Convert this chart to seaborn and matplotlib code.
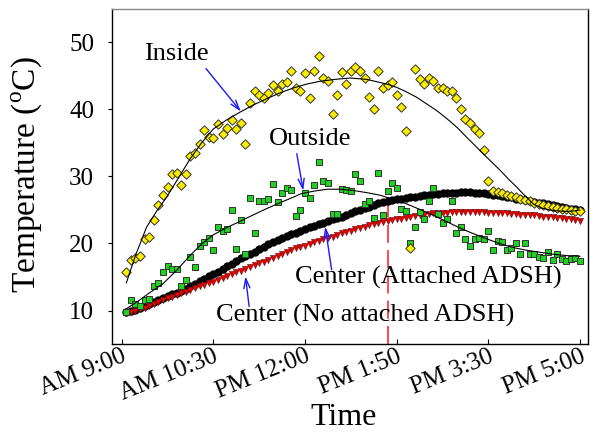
import numpy as np
import matplotlib
matplotlib.use("Agg")
import matplotlib.pyplot as plt
import matplotlib.transforms as mtransforms
import seaborn as sns

tick_labels = ["AM 9:00", "AM 10:30", "PM 12:00", "PM 1:50", "PM 3:30", "PM 5:00"]

# one reading every 1/20 of a tick interval
sample = np.arange(1, 101) / 20

inside = [15.8, 17.5, 17.9, 18.1, 20.7, 21.0, 23.5, 25.7, 27.2, 28.5,
          30.3, 30.5, 28.7, 30.3, 33.0, 33.5, 34.9, 37.0, 35.9, 35.7,
          37.8, 36.4, 37.2, 38.5, 37.1, 38.0, 34.9, 41.0, 42.7, 42.2,
          41.7, 42.4, 43.7, 42.7, 43.8, 44.1, 45.7, 43.2, 42.7, 45.5,
          41.7, 45.7, 48.0, 44.7, 44.3, 39.3, 42.2, 45.6, 43.8, 45.7,
          46.3, 45.7, 44.7, 41.8, 40.0, 45.8, 43.2, 43.7, 44.1, 42.2,
          40.3, 36.8, 19.4, 46.1, 44.6, 43.8, 44.7, 44.2, 43.2, 43.2,
          42.8, 42.7, 41.7, 40.0, 38.6, 38.0, 37.1, 36.5, 34.0, 29.3,
          27.9, 27.7, 27.5, 27.3, 27.1, 26.9, 26.6, 26.5, 26.3, 26.1,
          25.9, 25.7, 25.6, 25.5, 25.3, 25.2, 25.1, 25.0, 24.9, 24.8]

outside = [9.75, 11.5, 10.9, 10.6, 11.6, 11.7, 13.6, 14.1, 15.7, 16.7,
           16.2, 16.2, 13.7, 14.6, 18.0, 16.5, 19.6, 20.2, 20.8, 19.1,
           22.5, 21.8, 22.1, 25.0, 19.2, 23.5, 18.5, 26.8, 21.5, 26.3,
           26.3, 26.7, 28.9, 26.2, 27.5, 28.3, 28.0, 24.1, 25.0, 27.6,
           26.8, 28.7, 32.1, 29.3, 29.1, 24.4, 24.4, 28.2, 28.0, 27.8,
           30.3, 29.3, 25.9, 26.4, 23.8, 30.5, 24.3, 27.8, 29.1, 28.3,
           25.1, 24.8, 20.1, 22.5, 24.7, 23.7, 26.4, 28.3, 24.4, 23.1,
           23.7, 26.4, 21.5, 22.4, 20.6, 19.6, 20.6, 20.8, 20.7, 21.9,
           19.1, 20.4, 20.2, 19.1, 19.3, 20.0, 18.5, 20.0, 18.5, 18.5,
           18.0, 17.9, 18.8, 17.6, 18.4, 17.7, 17.4, 17.7, 17.8, 17.4]

center_attached = [9.75, 9.9, 10.1, 10.3, 10.6, 10.9, 11.2, 11.5, 11.8, 12.1,
                   12.4, 12.6, 12.9, 13.2, 13.6, 14.0, 14.4, 14.7, 15.1, 15.4,
                   15.8, 16.2, 16.6, 17.0, 17.4, 17.8, 18.1, 18.5, 18.8, 19.2,
                   19.5, 19.9, 20.2, 20.5, 20.8, 21.1, 21.4, 21.6, 21.8, 22.1,
                   22.4, 22.6, 22.9, 23.1, 23.4, 23.6, 23.8, 24.0, 24.3, 24.5,
                   24.8, 25.0, 25.3, 25.5, 25.8, 26.0, 26.2, 26.4, 26.5, 26.6,
                   26.7, 26.8, 26.9, 27.0, 27.1, 27.2, 27.3, 27.4, 27.4, 27.5,
                   27.5, 27.6, 27.6, 27.7, 27.7, 27.7, 27.6, 27.6, 27.5, 27.4,
                   27.3, 27.2, 27.1, 27.0, 26.9, 26.7, 26.6, 26.5, 26.4, 26.2,
                   26.1, 26.0, 25.9, 25.7, 25.6, 25.5, 25.3, 25.2, 25.1, 25.0]

center_no_attached = [9.7, 9.8, 10.0, 10.2, 10.4, 10.7, 11.0, 11.2, 11.5, 11.8,
                      12.0, 12.3, 12.6, 12.8, 13.1, 13.3, 13.6, 13.8, 14.1, 14.3,
                      14.6, 14.9, 15.1, 15.4, 15.7, 15.9, 16.2, 16.5, 16.8, 17.1,
                      17.3, 17.6, 17.9, 18.2, 18.4, 18.7, 19.0, 19.3, 19.5, 19.7,
                      19.9, 20.2, 20.4, 20.6, 20.8, 21.0, 21.3, 21.5, 21.7, 21.9,
                      22.1, 22.3, 22.5, 22.7, 22.9, 23.1, 23.2, 23.4, 23.5, 23.6,
                      23.7, 23.8, 23.9, 24.1, 24.2, 24.3, 24.4, 24.5, 24.5, 24.6,
                      24.6, 24.7, 24.7, 24.7, 24.7, 24.7, 24.7, 24.7, 24.7, 24.6,
                      24.6, 24.6, 24.5, 24.5, 24.4, 24.4, 24.3, 24.3, 24.2, 24.2,
                      24.1, 24.0, 24.0, 23.9, 23.8, 23.8, 23.7, 23.6, 23.5, 23.4]

# trend lines as drawn in the figure
inside_fit_x = [0.05, 0.15, 0.27, 0.38, 0.49, 0.62, 0.745, 0.87, 1.0, 1.15, 1.29, 1.44,
                1.58, 1.73, 1.87, 2.02, 2.16, 2.33, 2.49, 2.67, 2.89, 3.0, 3.11, 3.22,
                3.33, 3.44, 3.55, 3.66, 3.76, 3.87, 3.98, 4.13, 4.22, 4.31, 4.4, 4.49,
                4.58, 4.67, 4.76, 4.85, 4.93, 5.0]
inside_fit_y = [14.1, 18.2, 22.4, 24.8, 26.9, 29.8, 32.6, 35.0, 37.1, 38.5, 39.6, 40.7,
                41.6, 42.5, 43.2, 43.8, 44.2, 44.5, 44.7, 44.5, 43.8, 43.3, 42.6, 41.8,
                40.8, 39.8, 38.6, 37.3, 35.9, 34.4, 32.9, 30.9, 29.6, 28.4, 27.1, 25.9,
                25.3, 25.0, 24.85, 24.8, 24.85, 25.0]
outside_fit_x = [0.05, 0.2, 0.3, 0.45, 0.6, 0.745, 0.87, 1.0, 1.15, 1.29, 1.44, 1.58,
                 1.73, 1.87, 1.95, 2.09, 2.24, 2.38, 2.53, 2.67, 2.82, 2.96, 3.11, 3.25,
                 3.4, 3.54, 3.69, 3.83, 3.98, 4.12, 4.27, 4.41, 4.56, 4.7, 4.85, 5.0]
outside_fit_y = [10.25, 11.6, 12.6, 14.0, 16.0, 18.2, 19.9, 21.3, 22.4, 23.3, 24.3, 25.2,
                 26.1, 26.9, 27.4, 27.8, 28.1, 28.1, 27.9, 27.6, 27.2, 26.6, 25.9, 25.1,
                 24.2, 23.3, 22.3, 21.5, 20.7, 20.0, 19.4, 19.0, 18.7, 18.4, 18.2, 18.1]

sns.set_style("white")
plt.rcParams["font.family"] = ["Liberation Serif", "DejaVu Serif"]
plt.rcParams["mathtext.fontset"] = "custom"
plt.rcParams["mathtext.rm"] = "Liberation Serif"
for key in ["text.color", "axes.labelcolor", "xtick.color", "ytick.color"]:
    plt.rcParams[key] = "black"

fig = plt.figure(figsize=(5.98, 4.32), dpi=100)
ax = fig.add_axes([0.1868, 0.2037, 0.797, 0.7755])

edge = "#333333"
sns.scatterplot(x=sample, y=center_attached, marker="o", s=36, color="black",
                edgecolor="black", linewidth=0, ax=ax, zorder=2)
sns.scatterplot(x=sample, y=center_no_attached, marker="v", s=20, color="#e60000",
                edgecolor="#661111", linewidth=0.4, ax=ax, zorder=3)
sns.scatterplot(x=sample, y=outside, marker="s", s=25, color="#1fd21f",
                edgecolor=edge, linewidth=0.7, ax=ax, zorder=4)
sns.scatterplot(x=sample, y=inside, marker="D", s=23, color="#fbee00",
                edgecolor=edge, linewidth=0.7, ax=ax, zorder=5)

sns.lineplot(x=inside_fit_x, y=inside_fit_y, color="black", lw=0.8, ax=ax, zorder=6)
sns.lineplot(x=outside_fit_x, y=outside_fit_y, color="black", lw=0.8, ax=ax, zorder=6)

ax.plot([2.91, 2.91], [5, 26.2], color="#ff3b3b", lw=1.3, dashes=(10, 4), zorder=1)

arrow = dict(arrowstyle="->,head_length=0.7,head_width=0.22", color="#1a1aff", lw=1.0,
             shrinkA=0, shrinkB=0)
fs = 19
ax.text(0.60, 48.3, "Inside", fontsize=fs, ha="center", va="center")
ax.annotate("", xy=(1.30, 39.7), xytext=(0.92, 46.1), arrowprops=arrow)
ax.text(2.05, 35.6, "Outside", fontsize=fs, ha="center", va="center")
ax.annotate("", xy=(1.98, 27.9), xytext=(1.91, 33.4), arrowprops=arrow)
ax.text(3.34, 14.9, "Center (Attached ADSH)", fontsize=fs, ha="center", va="center")
ax.annotate("", xy=(2.22, 22.5), xytext=(2.29, 16.1), arrowprops=arrow)
ax.text(2.65, 9.3, "Center (No attached ADSH)", fontsize=fs, ha="center", va="center")
ax.annotate("", xy=(1.35, 15.1), xytext=(1.39, 10.6), arrowprops=arrow)

ax.set_xlim(-0.109, 5.09)
ax.set_ylim(5, 55)
ax.set_xticks(range(len(tick_labels)))
ax.set_xticklabels(tick_labels, rotation=22, ha="right", fontsize=18)
ax.set_yticks([10, 20, 30, 40, 50])
ax.tick_params(axis="x", direction="in", length=3.5, width=0.8, pad=1, bottom=True,
               color="black", labelcolor="black")
ax.tick_params(axis="y", direction="out", length=2.7, width=0.8, pad=10, labelsize=18,
               left=True, color="black", labelcolor="black")
offset = mtransforms.ScaledTranslation(8 / 100, 0, fig.dpi_scale_trans)
for lab in ax.get_xticklabels():
    lab.set_transform(lab.get_transform() + offset)

ax.set_xlabel("Time", fontsize=23, color="black")
ax.set_ylabel(r"Temperature ($^{\rm o}$C)", fontsize=24, color="black")
ax.xaxis.set_label_coords(0.487, -0.175)
ax.yaxis.set_label_coords(-0.142, 0.505)

for side in ["left", "bottom", "right"]:
    ax.spines[side].set_color("black")
    ax.spines[side].set_linewidth(1.0)
ax.spines["top"].set_color("#888888")
ax.spines["top"].set_linewidth(1.0)

fig.savefig("out.png", dpi=100)
